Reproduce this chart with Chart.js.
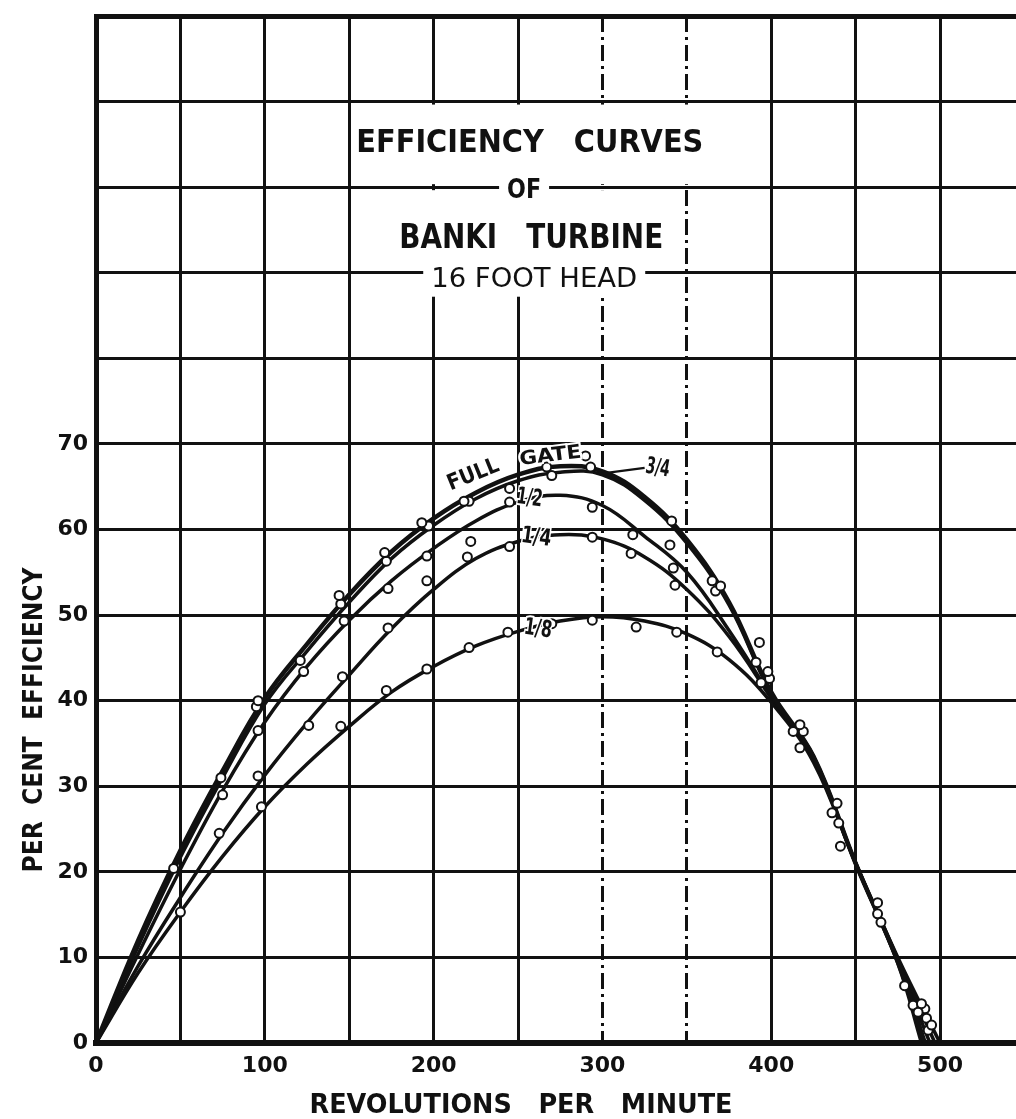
<!DOCTYPE html>
<html>
<head>
<meta charset="utf-8">
<script src="https://cdn.jsdelivr.net/npm/chart.js@4.4.0/dist/chart.umd.min.js"></script>
<style>
  html, body { margin: 0; padding: 0; background: #fff; }
  #wrap { width: 1016px; height: 1119px; }
</style>
</head>
<body>
<div id="wrap"><canvas id="chart" width="1016" height="1119"></canvas></div>
<script>
// rpm steps at which the drawn curves were read
const curveRpm = [0, 25, 50, 75, 100, 125, 150, 175, 200, 225, 250, 275, 300, 325, 350, 375, 400, 425, 450, 475];

// per cent efficiency along each faired curve
const fullGate         = [0, 12.0, 22.5, 31.8, 40.3, 46.6, 52.4, 57.4, 61.3, 64.3, 66.4, 67.4, 66.8, 63.8, 58.8, 51.5, 41.0, 33.5, 21.0, 9.5];
const threeQuarterGate = [0, 11.3, 21.7, 31.0, 39.6, 45.8, 51.5, 56.6, 60.5, 63.6, 65.7, 66.7, 66.4, 63.4, 58.4, 51.2, 40.8, 33.5, 21.0, 9.3];
const halfGate         = [0, 10.4, 20.3, 29.5, 37.5, 44.0, 49.4, 54.0, 57.8, 61.0, 63.2, 64.0, 62.8, 59.2, 55.0, 48.2, 40.5, 33.3, 21.0, 9.5];
const quarterGate      = [0, 9.0, 17.0, 24.5, 31.3, 37.4, 43.0, 48.4, 53.0, 56.6, 58.6, 59.4, 58.9, 56.8, 53.0, 47.5, 40.3, 33.1, 21.0, 9.8];
const eighthGate       = [0, 8.2, 15.3, 21.8, 27.6, 32.6, 37.0, 41.0, 44.0, 46.4, 48.1, 49.3, 49.8, 49.3, 47.8, 44.8, 39.8, 32.8, 21.0, 10.0];
// rpm where each curve comes back to zero
const zeroRpm = [491, 489, 494, 497, 500];

// test points (rpm, per cent efficiency)
const fullGatePts = [[46, 20.4], [74, 31], [96, 40], [121, 44.7], [144, 52.3], [171, 57.3], [193, 60.8], [218, 63.3], [267, 67.3], [290, 68.6], [341, 61], [365, 54], [393, 46.8], [417, 37.2], [439, 28], [463, 16.4], [479, 6.7], [489, 4.6], [495, 2.1]];
const threeQuarterPts = [[95, 39.3], [145, 51.3], [172, 56.3], [197, 60.4], [221, 63.3], [245, 64.8], [270, 66.3], [293, 67.3], [340, 58.2], [370, 53.4], [398, 43.4], [419, 36.4], [436, 26.9], [463, 15.1], [487, 3.6], [492, 2.9]];
const halfPts = [[75, 29], [96, 36.5], [123, 43.4], [147, 49.3], [173, 53.1], [196, 56.9], [245, 63.2], [294, 62.6], [318, 59.4], [342, 55.5], [367, 52.8], [399, 42.6], [413, 36.4], [440, 25.7], [465, 14.1], [484, 4.4], [491, 4]];
const quarterPts = [[73, 24.5], [96, 31.2], [126, 37.1], [146, 42.8], [173, 48.5], [196, 54], [222, 58.6], [220, 56.8], [245, 58], [294, 59.1], [317, 57.2], [343, 53.5], [391, 44.5], [394, 42.1], [417, 34.5], [441, 23], [493, 1.5]];
const eighthPts = [[50, 15.3], [98, 27.6], [145, 37], [172, 41.2], [196, 43.7], [221, 46.2], [244, 48], [270, 49], [294, 49.4], [320, 48.6], [344, 48], [368, 45.7]];

const gateNames = ["Full gate", "3/4 gate", "1/2 gate", "1/4 gate", "1/8 gate"];
const curveValues = [fullGate, threeQuarterGate, halfGate, quarterGate, eighthGate];
const testPoints = [fullGatePts, threeQuarterPts, halfPts, quarterPts, eighthPts];

const titleLines = ["EFFICIENCY   CURVES", "OF", "BANKI   TURBINE", "16 FOOT HEAD"];
const xTitle = "REVOLUTIONS   PER   MINUTE";
const yTitle = "PER  CENT  EFFICIENCY";
const INK = "#111";
const FONT = "'DejaVu Sans', sans-serif";

function curveData(values, end) {
  const pts = curveRpm.map((x, i) => ({ x: x, y: values[i] }));
  pts.push({ x: end, y: 0 });
  return pts;
}

const datasets = [];
gateNames.forEach((name, i) => {
  datasets.push({
    type: "line",
    label: name,
    data: curveData(curveValues[i], zeroRpm[i]),
    borderColor: INK,
    borderWidth: i === 0 ? 4.5 : 3.5,
    pointRadius: 0,
    tension: 0.4,
    fill: false,
    order: 2,
  });
});
gateNames.forEach((name, i) => {
  datasets.push({
    type: "scatter",
    label: name + " tests",
    data: testPoints[i].map((p) => ({ x: p[0], y: p[1] })),
    pointRadius: 4.5,
    pointBackgroundColor: "#fff",
    pointBorderColor: INK,
    pointBorderWidth: 2,
    order: 1,
  });
});

// lettering drawn at a given cap height, stretched to a given width
function letter(ctx, text, cx, cy, cap, width, weight, opts) {
  opts = opts || {};
  const size = cap / 0.73;
  ctx.save();
  ctx.font = weight + " " + size + "px " + FONT;
  const w = ctx.measureText(text).width;
  ctx.translate(cx, cy);
  if (opts.rotate) ctx.rotate((opts.rotate * Math.PI) / 180);
  if (opts.box) {
    ctx.fillStyle = "#fff";
    ctx.fillRect(-width / 2 - opts.box, -cap / 2 - 6, width + 2 * opts.box, cap + 12);
  }
  ctx.scale(width / w, 1);
  ctx.textAlign = "center";
  ctx.textBaseline = "alphabetic";
  if (opts.halo) {
    ctx.lineWidth = opts.halo;
    ctx.strokeStyle = "#fff";
    ctx.strokeText(text, 0, cap / 2);
  }
  ctx.fillStyle = INK;
  ctx.fillText(text, 0, cap / 2);
  ctx.restore();
}

const sheetText = {
  id: "sheetText",
  beforeDatasetsDraw(chart) {
    const { ctx, scales: { x, y } } = chart;
    ctx.save();
    ctx.fillStyle = "#fff";
    // clear the ruling behind the heading
    const left = x.getPixelForValue(150) + 3;
    ctx.fillRect(left, y.getPixelForValue(110) + 3, x.getPixelForValue(356) - left, y.getPixelForValue(100) - y.getPixelForValue(110) - 6);
    ctx.fillRect(left, y.getPixelForValue(100) + 3, x.getPixelForValue(350) - 3 - left, y.getPixelForValue(90) - y.getPixelForValue(100) - 6);
    ctx.fillRect(left, y.getPixelForValue(90) + 3, x.getPixelForValue(350) - 3 - left, y.getPixelForValue(87.2) - y.getPixelForValue(90) - 3);
    ctx.restore();
  },
  afterDatasetsDraw(chart) {
    const { ctx, scales: { x, y } } = chart;
    const X = (v) => x.getPixelForValue(v);
    const Y = (v) => y.getPixelForValue(v);
    letter(ctx, titleLines[0], X(257), Y(105.4), 23, 347, "bold");
    letter(ctx, titleLines[1], X(253.6), Y(99.8), 19, 34, "bold", { box: 8 });
    letter(ctx, titleLines[2], X(257.8), Y(94.4), 25, 264, "bold");
    letter(ctx, titleLines[3], X(259.6), Y(89.5), 20, 206, "normal", { box: 8 });

    // curve labels
    letter(ctx, "FULL", X(223), Y(66.6), 16, 54, "bold", { rotate: -22, halo: 4 });
    letter(ctx, "GATE", X(269), Y(68.8), 14, 62, "bold", { rotate: -7, halo: 4 });
    ctx.save();
    ctx.strokeStyle = INK;
    ctx.lineWidth = 2.5;
    ctx.beginPath();
    ctx.moveTo(X(298), Y(66.5));
    ctx.lineTo(X(325), Y(67.2));
    ctx.stroke();
    ctx.restore();
    letter(ctx, "3/4", X(333), Y(67.4), 17, 24, "bold", { rotate: 10 });
    letter(ctx, "1/2", X(257), Y(63.9), 17, 26, "bold", { rotate: 8, halo: 4 });
    letter(ctx, "1/4", X(261), Y(59.3), 17, 30, "bold", { rotate: 8, halo: 4 });
    letter(ctx, "1/8", X(262), Y(48.6), 17, 28, "bold", { rotate: 8, halo: 4 });

    // axis titles
    letter(ctx, xTitle, 521, 1103, 19, 423, "bold");
    ctx.save();
    ctx.translate(32, 720);
    ctx.rotate(-Math.PI / 2);
    letter(ctx, yTitle, 0, 0, 20, 305, "bold");
    ctx.restore();
  },
};

const dashedLines = [300, 350];

new Chart(document.getElementById("chart"), {
  data: { datasets: datasets },
  plugins: [sheetText],
  options: {
    responsive: false,
    animation: false,
    layout: { autoPadding: false, padding: { top: 16, left: 0, right: 0, bottom: 0 } },
    plugins: { legend: { display: false }, tooltip: { enabled: false }, title: { display: false } },
    scales: {
      x: {
        type: "linear",
        position: "bottom",
        min: 0,
        max: 545,
        afterFit(scale) {
          scale.height = 76;
          scale.paddingLeft = 0;
          scale.paddingRight = 0;
        },
        ticks: {
          stepSize: 50,
          autoSkip: false,
          maxRotation: 0,
          includeBounds: false,
          padding: 10,
          color: INK,
          font: { family: FONT, size: 22, weight: "bold" },
          callback: (v) => (v % 100 === 0 ? String(v) : ""),
        },
        grid: { color: INK, lineWidth: 3, drawTicks: false },
        border: {
          display: true,
          color: INK,
          width: 6,
          dash: (c) => (c.tick && dashedLines.includes(c.tick.value) ? [16, 5, 3, 5] : []),
        },
      },
      y: {
        type: "linear",
        min: 0,
        max: 120,
        afterFit(scale) {
          scale.width = 96;
          scale.paddingTop = 0;
          scale.paddingBottom = 0;
        },
        ticks: {
          stepSize: 10,
          padding: 8,
          color: INK,
          font: { family: FONT, size: 22, weight: "bold" },
          callback: (v) => (v <= 70 ? String(v) : ""),
        },
        grid: {
          color: INK,
          lineWidth: (c) => (c.tick && c.tick.value === 120 ? 5 : 3),
          drawTicks: false,
        },
        border: { display: true, color: INK, width: 5 },
      },
    },
  },
});
</script>
</body>
</html>
